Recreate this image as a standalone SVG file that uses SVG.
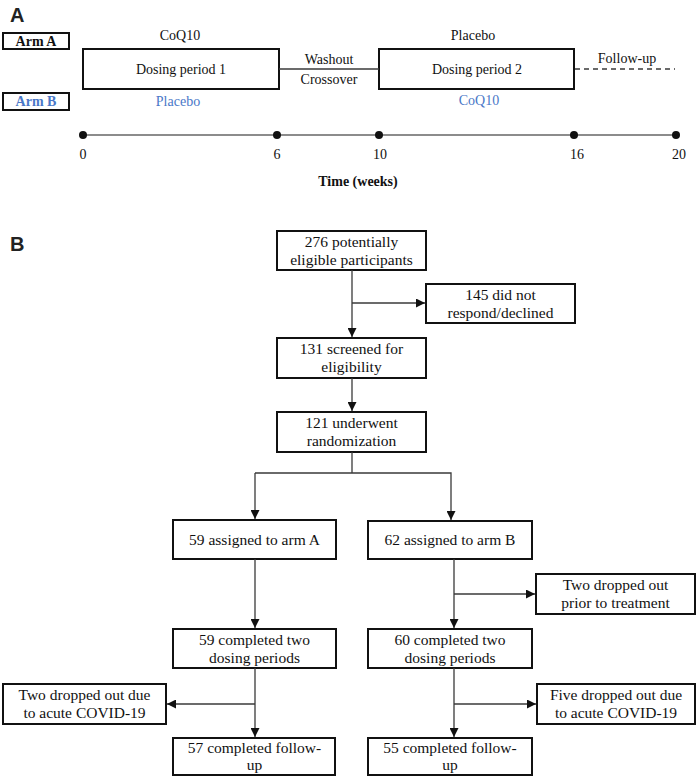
<svg xmlns="http://www.w3.org/2000/svg" width="697" height="777" viewBox="0 0 697 777">
<defs>
<style>
text{font-family:'Liberation Serif','Times New Roman','DejaVu Serif',serif;fill:#111;}
.a{font-size:14px;}
.f{font-size:15.5px;}
.b{font-weight:bold;}
.blue{fill:#4a78c8;}
.box{fill:#fff;stroke:#111;stroke-width:2;}
.ln{fill:none;stroke:#3a3a3a;stroke-width:1.3;}
.tl{fill:none;stroke:#666;stroke-width:1.5;}
text.lbl{font-family:'Liberation Sans',Arial,sans-serif;font-weight:bold;font-size:20px;fill:#222;}
</style>
<marker id="ar" viewBox="0 0 10 10" refX="10" refY="5" markerWidth="9" markerHeight="9" markerUnits="userSpaceOnUse" orient="auto">
<path d="M0,0 L10,5 L0,10 z" fill="#111"/>
</marker>
</defs>
<rect width="697" height="777" fill="#fff"/>

<!-- Panel A -->
<text class="lbl" x="10" y="22">A</text>
<g id="armA"><rect class="box" x="3" y="33" width="66" height="16"/><text class="a b" x="36" y="46" text-anchor="middle">Arm A</text></g>
<g id="armB"><rect class="box" x="3" y="93" width="66" height="17"/><text class="a b blue" x="36" y="106" text-anchor="middle">Arm B</text></g>
<g id="dose1">
<rect class="box" x="83" y="49" width="196" height="40"/>
<text class="a" x="181" y="74" text-anchor="middle">Dosing period 1</text>
<text class="a" x="180" y="40" text-anchor="middle">CoQ10</text>
<text class="a blue" x="178" y="106" text-anchor="middle">Placebo</text>
</g>
<g id="washout">
<text class="a" x="329" y="64" text-anchor="middle">Washout</text>
<text class="a" x="329" y="84" text-anchor="middle">Crossover</text>
</g>
<g id="dose2">
<rect class="box" x="379" y="49" width="195" height="40"/>
<text class="a" x="477" y="74" text-anchor="middle">Dosing period 2</text>
<text class="a" x="473" y="40" text-anchor="middle">Placebo</text>
<text class="a blue" x="479" y="105" text-anchor="middle">CoQ10</text>
</g>
<g id="followup">
<text class="a" x="627" y="63" text-anchor="middle">Follow-up</text>
</g>
<g id="timeline">
<line class="tl" x1="83" y1="135" x2="676" y2="135"/>
<circle cx="83" cy="135" r="4" fill="#111"/>
<circle cx="277" cy="135" r="4" fill="#111"/>
<circle cx="379" cy="135" r="4" fill="#111"/>
<circle cx="574" cy="135" r="4" fill="#111"/>
<circle cx="676" cy="135" r="4" fill="#111"/>
<text class="a" x="83" y="159" text-anchor="middle">0</text>
<text class="a" x="277" y="159" text-anchor="middle">6</text>
<text class="a" x="380" y="159" text-anchor="middle">10</text>
<text class="a" x="577" y="159" text-anchor="middle">16</text>
<text class="a" x="679" y="159" text-anchor="middle">20</text>
<text class="a b" x="358" y="186" text-anchor="middle">Time (weeks)</text>
</g>

<!-- Panel B -->
<text class="lbl" x="10" y="251">B</text>
<g id="n276"><rect class="box" x="277" y="231" width="149" height="39"/>
<text class="f" x="351.5" y="247" text-anchor="middle">276 potentially</text>
<text class="f" x="351.5" y="265" text-anchor="middle">eligible participants</text></g>
<g id="n145"><rect class="box" x="426" y="284" width="149" height="39"/>
<text class="f" x="500.5" y="300" text-anchor="middle">145 did not</text>
<text class="f" x="500.5" y="318" text-anchor="middle">respond/declined</text></g>
<g id="n131"><rect class="box" x="277" y="338" width="149" height="40"/>
<text class="f" x="351.5" y="354" text-anchor="middle">131 screened for</text>
<text class="f" x="351.5" y="372" text-anchor="middle">eligibility</text></g>
<g id="n121"><rect class="box" x="277" y="412" width="149" height="40"/>
<text class="f" x="351.5" y="428" text-anchor="middle">121 underwent</text>
<text class="f" x="351.5" y="446" text-anchor="middle">randomization</text></g>
<g id="n59a"><rect class="box" x="173" y="520" width="163" height="39"/>
<text class="f" x="254.5" y="545" text-anchor="middle">59 assigned to arm A</text></g>
<g id="n62b"><rect class="box" x="368" y="521" width="164" height="38"/>
<text class="f" x="450" y="545" text-anchor="middle">62 assigned to arm B</text></g>
<g id="nprior"><rect class="box" x="536" y="574" width="159" height="40"/>
<text class="f" x="615.5" y="590" text-anchor="middle">Two dropped out</text>
<text class="f" x="615.5" y="608" text-anchor="middle">prior to treatment</text></g>
<g id="n59c"><rect class="box" x="173" y="629" width="163" height="39"/>
<text class="f" x="254.5" y="645" text-anchor="middle">59 completed two</text>
<text class="f" x="254.5" y="663" text-anchor="middle">dosing periods</text></g>
<g id="n60c"><rect class="box" x="368" y="629" width="164" height="39"/>
<text class="f" x="450" y="645" text-anchor="middle">60 completed two</text>
<text class="f" x="450" y="663" text-anchor="middle">dosing periods</text></g>
<g id="ndropA"><rect class="box" x="3" y="684" width="163" height="40"/>
<text class="f" x="84.5" y="700" text-anchor="middle">Two dropped out due</text>
<text class="f" x="84.5" y="718" text-anchor="middle">to acute COVID-19</text></g>
<g id="ndropB"><rect class="box" x="537" y="684" width="158" height="40"/>
<text class="f" x="616" y="700" text-anchor="middle">Five dropped out due</text>
<text class="f" x="616" y="718" text-anchor="middle">to acute COVID-19</text></g>
<g id="n57"><rect class="box" x="173" y="738" width="162" height="37"/>
<text class="f" x="254.5" y="753" text-anchor="middle">57 completed follow-</text>
<text class="f" x="254.5" y="770" text-anchor="middle">up</text></g>
<g id="n55"><rect class="box" x="368" y="738" width="164" height="37"/>
<text class="f" x="450" y="753" text-anchor="middle">55 completed follow-</text>
<text class="f" x="450" y="770" text-anchor="middle">up</text></g>

<g id="connectors">
<line class="ln" x1="279" y1="69" x2="379" y2="69"/>
<line class="ln" x1="575" y1="69" x2="675" y2="69" stroke-dasharray="5,4"/>
<line class="ln" x1="352" y1="270" x2="352" y2="337" marker-end="url(#ar)"/>
<line class="ln" x1="352" y1="303" x2="425" y2="303" marker-end="url(#ar)"/>
<line class="ln" x1="352" y1="378" x2="352" y2="411" marker-end="url(#ar)"/>
<polyline class="ln" points="352,452 352,473"/>
<polyline class="ln" points="255,473 451,473 451,520" marker-end="url(#ar)"/>
<line class="ln" x1="255" y1="473" x2="255" y2="519" marker-end="url(#ar)"/>
<line class="ln" x1="255" y1="559" x2="255" y2="628" marker-end="url(#ar)"/>
<line class="ln" x1="454" y1="559" x2="454" y2="628" marker-end="url(#ar)"/>
<line class="ln" x1="454" y1="594" x2="535" y2="594" marker-end="url(#ar)"/>
<line class="ln" x1="255" y1="668" x2="255" y2="737" marker-end="url(#ar)"/>
<line class="ln" x1="255" y1="704" x2="167" y2="704" marker-end="url(#ar)"/>
<line class="ln" x1="454" y1="668" x2="454" y2="737" marker-end="url(#ar)"/>
<line class="ln" x1="454" y1="704" x2="536" y2="704" marker-end="url(#ar)"/>
</g>
</svg>
